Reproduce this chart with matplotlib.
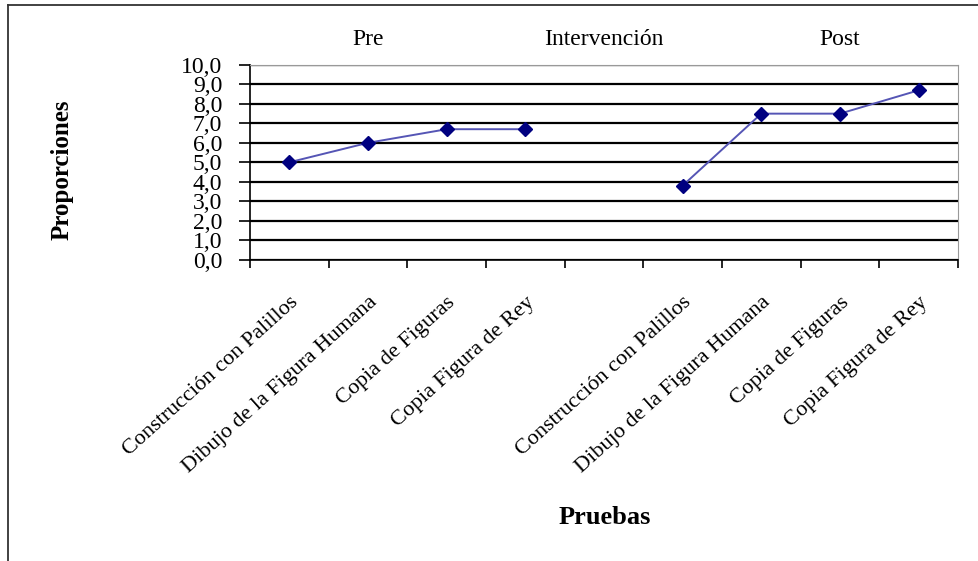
import matplotlib
matplotlib.use("Agg")
import matplotlib.pyplot as plt
import numpy as np
from matplotlib.lines import Line2D
from matplotlib.ticker import FuncFormatter

plt.rcParams['font.family'] = ['Liberation Serif', 'DejaVu Serif']

# pruebas: 4 pre, hueco de intervencion, 4 post
pruebas = ["Construcción con Palillos", "Dibujo de la Figura Humana",
           "Copia de Figuras", "Copia Figura de Rey", "",
           "Construcción con Palillos", "Dibujo de la Figura Humana",
           "Copia de Figuras", "Copia Figura de Rey"]
proporciones = [5.0, 6.0, 6.7, 6.7, np.nan, 3.8, 7.5, 7.5, 8.7]
fases = ["Pre", "Intervención", "Post"]
fase_pos = [1, 4, 7]

fig = plt.figure(figsize=(9.79, 5.61), dpi=100)
ax = fig.add_axes([0.2554, 0.5374, 0.7231, 0.3467])

x = np.arange(len(pruebas)) + 0.5
ax.plot(x, proporciones, color='#5555b5', lw=1.4, zorder=3)
ax.plot(x, proporciones, ls='none', marker='D', ms=7.5,
        color='#000080', zorder=4)

ax.set_xlim(0, len(pruebas))
ax.set_ylim(0, 10)
ax.set_yticks(np.arange(0, 11, 1))
ax.yaxis.set_major_formatter(FuncFormatter(lambda v, p: f"{v:.1f}".replace('.', ',')))
ax.tick_params(axis='y', labelsize=17, length=8, width=1.2, pad=12)
ax.grid(axis='y', color='black', lw=1.6)
ax.set_axisbelow(True)

# ticks en los limites de categoria, etiquetas en el centro
ax.set_xticks(np.arange(0, len(pruebas) + 1))
ax.set_xticklabels([])
ax.tick_params(axis='x', which='major', length=6, width=1.2)
ax.set_xticks(x, minor=True)
ax.set_xticklabels(pruebas, minor=True, rotation=42, ha='right',
                   va='top', rotation_mode='anchor', fontsize=16)
ax.tick_params(axis='x', which='minor', length=0, pad=24)

for s in ['top', 'right']:
    ax.spines[s].set_color('#999999')
for s in ['left', 'bottom']:
    ax.spines[s].set_color('black')
    ax.spines[s].set_linewidth(1.2)

for name, i in zip(fases, fase_pos):
    ax.text(i + 0.5, 1.13, name, transform=ax.get_xaxis_transform(),
            ha='center', va='center', fontsize=17)

fig.text(0.063, 0.697, "Proporciones", rotation=90, ha='center',
         va='center', fontsize=18, fontweight='bold')
fig.text(0.618, 0.078, "Pruebas", ha='center', va='center',
         fontsize=19, fontweight='bold')

# marco exterior (solo izquierda y arriba)
fig.add_artist(Line2D([0.008, 0.008], [0, 0.991], color='#333333', lw=1.3))
fig.add_artist(Line2D([0.008, 1.0], [0.991, 0.991], color='#333333', lw=1.3))

fig.savefig("out.png", dpi=100)
